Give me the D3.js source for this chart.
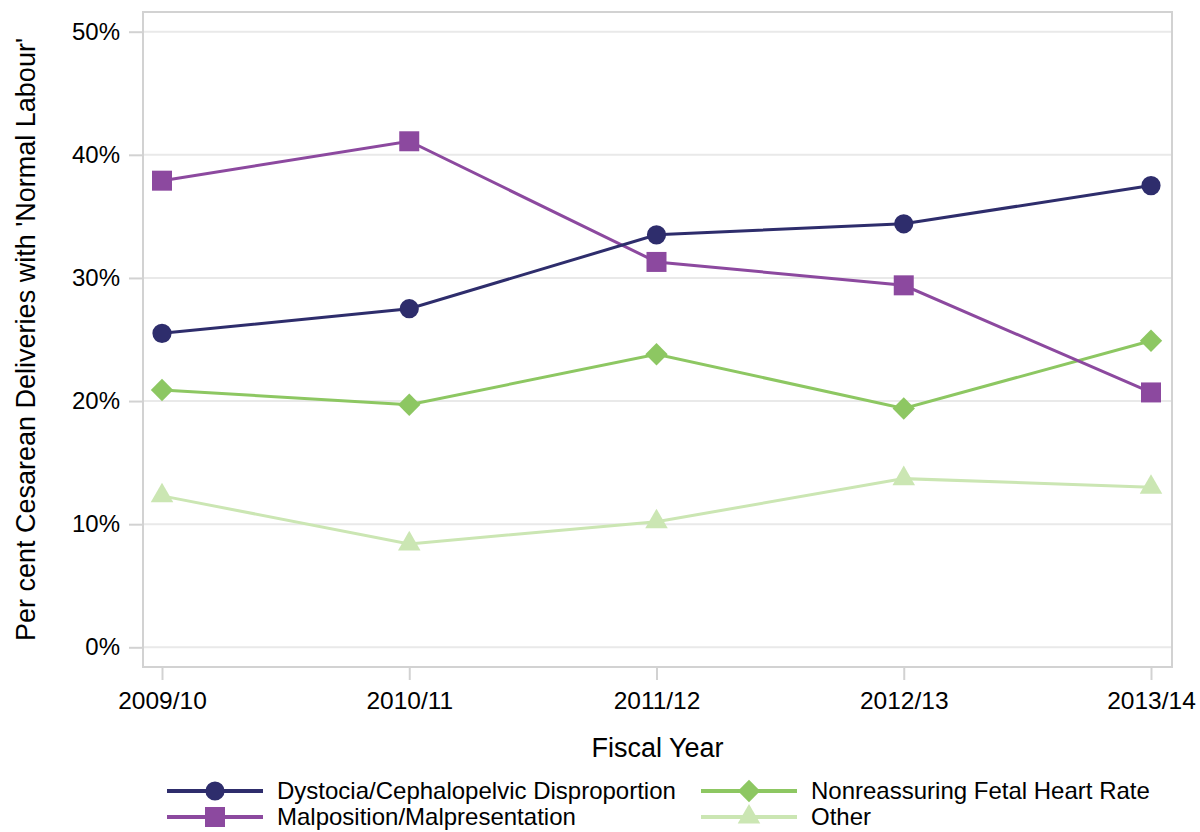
<!DOCTYPE html>
<html><head><meta charset="utf-8">
<script src="https://cdn.jsdelivr.net/npm/d3@7/dist/d3.min.js"></script>
<style>body{margin:0;background:#fff}svg{display:block}text{font-family:"Liberation Sans",Arial,sans-serif;fill:#000}</style>
</head><body><svg id="c" width="1200" height="832"></svg>
<script>
const categories = ["2009/10","2010/11","2011/12","2012/13","2013/14"];
const seriesNames = ["Dystocia/Cephalopelvic Disproportion","Malposition/Malpresentation","Nonreassuring Fetal Heart Rate","Other"];
const dystocia = [25.5, 27.5, 33.5, 34.4, 37.5];
const malposition = [37.9, 41.1, 31.3, 29.4, 20.7];
const nonreassuring = [20.9, 19.7, 23.8, 19.4, 24.9];
const other = [12.3, 8.4, 10.2, 13.7, 13.0];
const yTicks = [0, 10, 20, 30, 40, 50];

const colors = ["#2e2d6c", "#8c499f", "#8dc762", "#cbe6b3"];
const symbols = [d3.symbolCircle, d3.symbolSquare, d3.symbolSquare, d3.symbolTriangle];
const rotations = [0, 0, 45, 0];
const symSizes = [290, 400, 250, 220];
const series = [dystocia, malposition, nonreassuring, other].map((v,i)=>({name:seriesNames[i], values:v, color:colors[i], sym:symbols[i], size:symSizes[i], rot:rotations[i]}));

const svg = d3.select("#c");
const L = 143, R = 1172, T = 12, B = 667;
const x = d3.scalePoint().domain(categories).range([162, 1151]);
const y = d3.scaleLinear().domain([-1.6, 51.6]).range([B, T]);
const FONT = "Liberation Sans, Arial, sans-serif";

// gridlines
svg.append("g").selectAll("line").data(yTicks).join("line")
  .attr("x1", L).attr("x2", R).attr("y1", d=>y(d)).attr("y2", d=>y(d))
  .attr("stroke", "#e9e9e9").attr("stroke-width", 2);

// frame
svg.append("rect").attr("x", L).attr("y", T).attr("width", R-L).attr("height", B-T)
  .attr("fill","none").attr("stroke","#d2d2d2").attr("stroke-width",2);

// y axis
const yAxis = d3.axisLeft(y).tickValues(yTicks).tickFormat(d=>d+"%").tickSize(14).tickPadding(9);
const gy = svg.append("g").attr("transform", `translate(${L},0)`).call(yAxis);
gy.select(".domain").remove();
gy.selectAll("line").attr("stroke","#d2d2d2").attr("stroke-width",2);
gy.selectAll("text").style("font-size","24px").style("font-family",FONT).attr("fill","#000");

// x axis
const xAxis = d3.axisBottom(x).tickSize(13).tickPadding(12);
const gx = svg.append("g").attr("transform", `translate(0,${B})`).call(xAxis);
gx.select(".domain").remove();
gx.selectAll("line").attr("stroke","#d2d2d2").attr("stroke-width",2);
gx.selectAll("text").style("font-size","24.5px").style("font-family",FONT).attr("fill","#000");

// titles
svg.append("text").attr("x", (L+R)/2).attr("y", 757).attr("text-anchor","middle").style("font-size","27px").text("Fiscal Year");
svg.append("text").attr("transform", `translate(35,${(T+B)/2}) rotate(-90)`).attr("text-anchor","middle").style("font-size","27px")
  .text("Per cent Cesarean Deliveries with 'Normal Labour'");

// lines
const line = d3.line().x((d,i)=>x(categories[i])).y(d=>y(d));
const order = [3,2,1,0];
order.forEach(k=>{
  const s = series[k];
  svg.append("path").datum(s.values).attr("d", line).attr("fill","none").attr("stroke", s.color).attr("stroke-width",3);
});
order.forEach(k=>{
  const s = series[k];
  svg.append("g").selectAll("path").data(s.values).join("path")
    .attr("transform",(d,i)=>`translate(${x(categories[i])},${y(d)}) rotate(${s.rot})`)
    .attr("d", d3.symbol().type(s.sym).size(s.size)).attr("fill", s.color);
});

// legend
const legPos = [[167,791],[167,817],[701,791],[701,817]];
series.forEach((s,i)=>{
  const [lx, ly] = legPos[i];
  const g = svg.append("g").attr("transform", `translate(${lx},${ly})`);
  g.append("line").attr("x1",0).attr("x2",96).attr("y1",0).attr("y2",0).attr("stroke",s.color).attr("stroke-width",4);
  g.append("path").attr("transform",`translate(48,0) rotate(${s.rot})`).attr("d", d3.symbol().type(s.sym).size(s.size)).attr("fill", s.color);
  g.append("text").attr("x",110).attr("y",0).attr("dy","0.35em").style("font-size","24px").text(s.name);
});
</script></body></html>
